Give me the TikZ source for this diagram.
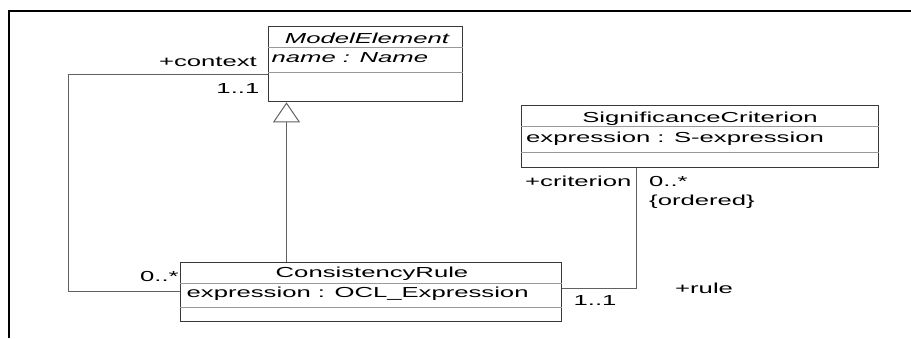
\documentclass[tikz,border=0pt]{standalone}
\usepackage{fontspec}
\setmainfont{Liberation Sans}[FakeStretch=1.77]
\usetikzlibrary{arrows.meta}
\begin{document}
\begin{tikzpicture}[x=1pt,y=-1pt,
  font=\fontsize{14.5}{17}\selectfont,
  cls/.style={draw=black!78, line width=1.3pt, fill=white, inner sep=0pt, anchor=north west},
  sepline/.style={draw=black!40, line width=1pt},
  assoc/.style={draw=black!62, line width=1pt},
  lbl/.style={inner sep=0pt, anchor=base west},
  lble/.style={inner sep=0pt, anchor=base east},
  ttl/.style={inner sep=0pt, anchor=base},
  gen/.style={assoc, -{Triangle[open, length=20pt, width=27pt, fill=white]}}]
\useasboundingbox (0,0) rectangle (911,338);
\draw[line width=2.2pt] (9,338) -- (9,11) -- (911,11);

% classes
\node[cls, minimum width=194pt, minimum height=75pt] (me) at (268,26) {};
\node[cls, minimum width=357pt, minimum height=62.5pt] (sc) at (520.5,104.5) {};
\node[cls, minimum width=381pt, minimum height=59pt] (cr) at (180,262) {};

% separators
\draw[sepline] ([yshift=-21.7pt]me.north west) -- ([yshift=-21.7pt]me.north east);
\draw[sepline] ([yshift=-46pt]me.north west) -- ([yshift=-46pt]me.north east);
\draw[sepline] ([yshift=-22pt]sc.north west) -- ([yshift=-22pt]sc.north east);
\draw[sepline] ([yshift=-47.5pt]sc.north west) -- ([yshift=-47.5pt]sc.north east);
\draw[sepline] ([yshift=-21.5pt]cr.north west) -- ([yshift=-21.5pt]cr.north east);
\draw[sepline] ([yshift=-45.5pt]cr.north west) -- ([yshift=-45.5pt]cr.north east);

% class texts
\node[ttl] (meT) at (367,43.3) {\itshape ModelElement};
\node[lbl] (meA) at (271.5,62.7) {\itshape name : Name};
\node[ttl] (scT) at (700,122.7) {SignificanceCriterion};
\node[lbl] (scA) at (526,142.7) {expression : S-expression};
\node[ttl] (crT) at (372,277.7) {ConsistencyRule};
\node[lbl] (crA) at (186.5,297.7) {expression : OCL\_Expression};

% connector end points
\path (me.south west) ++(18.5,0) coordinate (genTop);
\path (cr.north west) ++(106.5,0) coordinate (genBot);
\path (me.north west) ++(0,48.7) coordinate (ctxA);
\path (cr.north west) ++(0,29) coordinate (ctxB);
\path (sc.south west) ++(115.8,0) coordinate (critA);
\path (cr.north east) ++(0,26) coordinate (critB);

% connectors
\draw[gen] (genBot) -- (genTop);
\draw[assoc] (ctxA) -- ++(-200,0) |- (ctxB);
\draw[assoc] (critA) |- (critB);

% role labels
\node[lble] (l1) at (257,66) {+context};
\node[lble] (l2) at (259.5,93) {1..1};
\node[lbl] (l3) at (140,281.7) {0..*};
\node[lbl] (l4) at (525,186) {+criterion};
\node[lbl] (l5) at (649,186) {0..*};
\node[lbl] (l6) at (649,205.5) {\{ordered\}};
\node[lbl] (l7) at (573.5,305) {1..1};
\node[lbl] (l8) at (675,293) {+rule};
\end{tikzpicture}
\end{document}
